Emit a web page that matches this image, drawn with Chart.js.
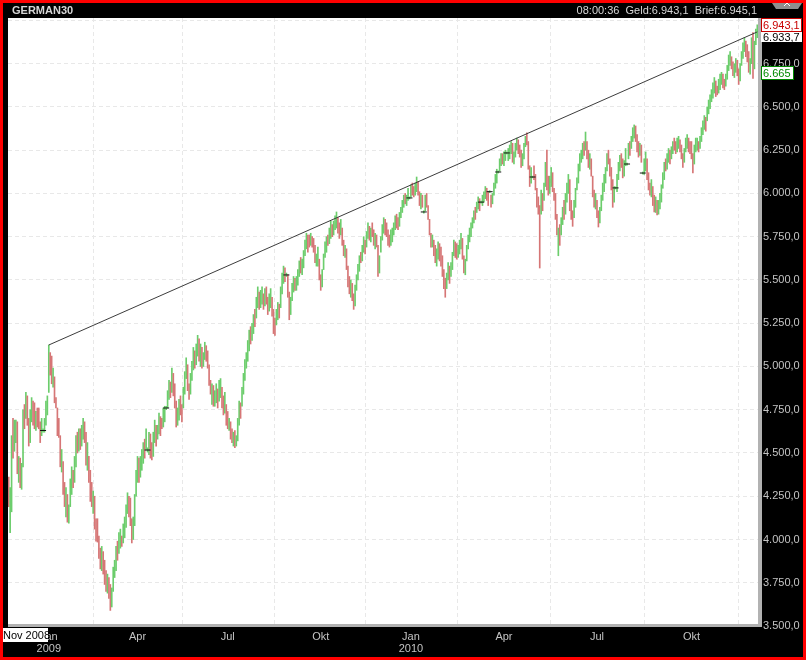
<!DOCTYPE html>
<html><head><meta charset="utf-8">
<script src="https://cdn.jsdelivr.net/npm/chart.js@4.4.0/dist/chart.umd.min.js"></script>
<style>html,body{margin:0;padding:0;background:#000;overflow:hidden}</style>
</head><body><canvas id="c" width="806" height="660"></canvas>
<script>
const symbol = 'GERMAN30';
const quoteText = '08:00:36  Geld:6.943,1  Brief:6.945,1';
const startLabel = 'Nov 2008';
const highs = [
4360,4300,4600,4700,4690,4690,4680,4480,4470,4440,
4750,4780,4850,4830,4700,4750,4820,4800,4790,4740,
4760,4760,4680,4700,4640,4700,4800,4830,5124,5080,
5060,4990,4940,4820,4760,4700,4600,4520,4450,4330,
4300,4260,4200,4350,4420,4400,4480,4600,4620,4640,
4640,4660,4700,4680,4620,4560,4480,4400,4330,4280,
4250,4120,4120,4020,3950,3960,3930,3880,3820,3800,
3780,3740,3720,3840,3880,3960,3990,4040,4060,4020,
4090,4130,4200,4270,4250,4240,4120,4130,4260,4400,
4480,4470,4480,4520,4560,4580,4640,4530,4620,4610,
4560,4620,4690,4660,4660,4730,4710,4700,4760,4770,
4770,4860,4920,4910,4990,4960,4900,4800,4760,4810,
4830,4780,4880,4970,5050,5010,4900,4960,5030,5110,
5090,5130,5180,5160,5130,5110,5080,5140,5120,5090,
5010,4920,4900,4890,4860,4900,4870,4920,4930,4880,
4830,4850,4780,4740,4700,4680,4640,4620,4630,4600,
4700,4800,4790,4880,4960,5040,5080,5150,5210,5230,
5250,5300,5330,5400,5460,5430,5440,5460,5420,5450,
5460,5400,5420,5450,5400,5330,5280,5330,5370,5360,
5460,5540,5580,5570,5540,5530,5430,5400,5480,5520,
5510,5520,5560,5610,5630,5620,5670,5730,5770,5760,
5760,5770,5750,5740,5700,5650,5690,5620,5530,5560,
5650,5720,5750,5760,5800,5840,5820,5840,5870,5893,
5860,5830,5850,5800,5730,5700,5680,5580,5520,5500,
5480,5420,5470,5530,5590,5640,5660,5700,5750,5730,
5780,5830,5810,5800,5830,5790,5770,5760,5700,5640,
5750,5820,5860,5850,5830,5790,5760,5790,5800,5830,
5870,5880,5860,5890,5920,5960,5990,6000,5990,6030,
5980,6050,6060,6040,6060,6095,6070,6010,6000,5990,
5900,5990,6000,5930,5850,5770,5760,5730,5700,5680,
5720,5710,5690,5640,5560,5510,5540,5600,5580,5600,
5660,5730,5720,5710,5700,5730,5770,5740,5640,5620,
5700,5760,5800,5830,5860,5900,5920,5950,5980,5970,
5956,5990,6010,6040,6030,6010,6016,5990,6000,6060,
6110,6140,6130,6200,6230,6230,6240,6250,6240,6260,
6280,6300,6290,6240,6290,6320,6310,6280,6250,6230,
6290,6330,6350,6300,6160,6150,6100,6160,6110,6030,
5980,5930,6020,6000,6060,6180,6250,6100,6100,6150,
6120,6030,6000,5880,5800,5820,5860,5920,5960,6000,
6060,6110,6080,5960,5900,5960,6030,6090,6170,6230,
6250,6290,6300,6355,6300,6250,6230,6200,6100,6020,
6000,5960,5900,5920,5990,6060,6110,6150,6230,6250,
6200,6150,6080,6040,6038,6110,6180,6220,6230,6200,
6190,6260,6176,6290,6300,6330,6380,6396,6390,6340,
6300,6290,6280,6124,6200,6240,6200,6120,6060,6080,
6040,5990,5980,5960,5960,6000,6050,6120,6180,6200,
6230,6260,6250,6270,6300,6320,6300,6320,6330,6310,
6280,6230,6260,6320,6340,6320,6300,6300,6230,6280,
6320,6320,6300,6330,6380,6420,6450,6440,6500,6540,
6570,6600,6640,6670,6650,6620,6660,6690,6700,6690,
6660,6690,6740,6800,6820,6790,6760,6750,6780,6770,
6720,6750,6820,6870,6900,6880,6860,6820,6780,6900,
6930,6880,6950,6975];
const lows = [
4190,4040,4160,4470,4510,4560,4380,4330,4300,4290,
4420,4640,4700,4660,4540,4560,4680,4660,4640,4630,
4650,4640,4560,4600,4620,4620,4660,4720,4850,4950,
4900,4880,4790,4760,4600,4590,4420,4390,4260,4190,
4130,4100,4095,4190,4260,4300,4330,4420,4500,4510,
4520,4540,4580,4560,4430,4400,4330,4220,4190,4150,
4060,3990,3985,3890,3830,3820,3800,3740,3700,3690,
3660,3590,3610,3700,3780,3820,3880,3920,3950,3960,
3980,4010,4070,4150,4130,4080,3980,4000,4080,4250,
4330,4330,4360,4400,4440,4470,4520,4505,4490,4470,
4460,4480,4560,4540,4580,4610,4600,4640,4650,4680,
4750,4760,4810,4820,4850,4830,4760,4650,4660,4690,
4720,4680,4760,4840,4930,4860,4810,4840,4920,4980,
4990,5010,5060,5030,5000,4990,5000,5040,5030,4990,
4890,4840,4780,4770,4770,4790,4760,4800,4820,4760,
4720,4730,4660,4640,4630,4580,4560,4540,4530,4540,
4570,4660,4700,4770,4840,4920,4990,5030,5090,5130,
5150,5190,5230,5280,5340,5330,5340,5360,5330,5350,
5360,5300,5320,5340,5290,5190,5180,5240,5270,5280,
5340,5420,5480,5490,5520,5400,5270,5300,5380,5430,
5440,5440,5470,5520,5540,5530,5570,5640,5680,5660,
5690,5700,5690,5660,5600,5580,5580,5500,5440,5460,
5560,5630,5660,5700,5710,5740,5750,5760,5790,5800,
5770,5740,5760,5700,5640,5630,5560,5460,5420,5400,
5380,5330,5350,5440,5500,5550,5600,5610,5660,5650,
5690,5740,5730,5720,5750,5700,5680,5690,5520,5540,
5660,5730,5770,5760,5750,5700,5690,5700,5720,5760,
5790,5800,5790,5810,5860,5890,5920,5940,5930,5960,
5968,5980,5990,5980,5990,6010,5990,5930,5910,5920,
5886,5900,5920,5850,5760,5690,5690,5640,5600,5580,
5620,5610,5580,5520,5450,5400,5450,5500,5480,5520,
5560,5640,5630,5620,5630,5650,5680,5620,5540,5530,
5610,5680,5720,5750,5800,5830,5850,5890,5910,5900,
5944,5930,5950,5970,5960,5930,6004,5920,5940,5990,
6030,6060,6118,6130,6160,6170,6160,6190,6228,6190,
6200,6230,6180,6170,6210,6250,6230,6210,6150,6160,
6200,6270,6280,6140,6040,6060,6090,6080,6020,5920,
5880,5569,5880,5900,5960,6040,6020,5990,6000,6040,
6010,5960,5850,5760,5640,5700,5760,5820,5850,5880,
5950,6000,5900,5850,5810,5860,5920,6020,6060,6130,
6180,6200,6220,6250,6200,6150,6140,6100,5980,5920,
5910,5860,5806,5830,5900,5960,6010,6060,6130,6170,
6100,6020,5920,5950,6026,6010,6080,6130,6150,6090,
6100,6160,6164,6200,6220,6260,6300,6320,6300,6240,
6210,6220,6180,6112,6110,6130,6080,6020,5990,5980,
5930,5893,5890,5876,5880,5910,5950,6030,6080,6130,
6140,6180,6170,6200,6230,6250,6230,6240,6260,6240,
6200,6150,6180,6240,6260,6240,6230,6200,6118,6170,
6240,6250,6240,6260,6300,6340,6370,6360,6420,6460,
6490,6530,6550,6580,6560,6570,6580,6600,6630,6610,
6600,6620,6660,6710,6740,6720,6680,6670,6700,6680,
6630,6650,6740,6780,6820,6790,6760,6700,6690,6750,
6665,6720,6860,6900];
const upDown = [
'duuduududu','ududduuddu','ddduuuuuud','dudddddudd','uduuuduudu',
'duuddudddu','dddddudddu','dduuuuduud','uuuuddduuu','uduuuduuud',
'duuduudduu','uuududdduu','dduuudduuu','duududuudd','dduduuduud',
'dudduddudu','uuduuuuuud','uuduuduudu','dduuddduud','uuududduuu',
'duuuduuuud','duddduuddu','uuuduuduuu','dduddudddu','dduuuuduud',
'uududduddu','uuudddduuu','udduuuuduu','uudduuddud','uudddduddu',
'uddddduudu','uudduuuddu','uuuuuuduud','uuuudduduu','uuuuuduuuu',
'uuduuudddu','uuddduuddd','dduduudduu','dddduduudu','uuddduuuuu',
'uududduddd','udduuuuuud','ddduuuuudd','uuuuduuudd','duduuudddu',
'dduduuuuud','uuduudduud','dduuuddddu','uuduuuuduu','uuuudduuud',
'duuuudduud','duuuuddduu','duuu'].join('');
const dojiBars = [[24,4630],[97,4517],[110,4760],[194,5529],[280,5974],[290,5893],[330,5950],[336,6010],[342,6124],[348,6234],[366,6095],[424,6032],[432,6170],[443,6118]];
const monthTickIndex = [28, 90, 153, 218, 281, 346, 411, 477];
const monthTickLabels = [['Jan','2009'],'Apr','Jul','Okt',['Jan','2010'],'Apr','Jul','Okt'];
const yTickValues = [3500,3750,4000,4250,4500,4750,5000,5250,5500,5750,6000,6250,6500,6750,7000];
const trendLine = [[28,5124],[523,6933.7]];
const lastPrice = 6943.1;
const trendValue = 6933.7;
const markedLow = 6665;

function fmt(v, dec){
  const neg = v < 0; v = Math.abs(v);
  const int = Math.floor(v + 1e-9);
  const th = Math.floor(int/1000), rest = int % 1000;
  let s = (th ? th + '.' + String(rest).padStart(3,'0') : String(rest));
  if (dec) s += ',' + (v - int).toFixed(dec).slice(2);
  return (neg?'-':'') + s;
}

const N = highs.length;
const barData = highs.map((h,i)=>({x:i, y:[lows[i], h]}));
const barColors = highs.map((h,i)=> upDown[i]==='u' ? '#6ccd6c' : '#d67676');

const FONT = '"Liberation Sans", Arial, sans-serif';

const framePlugin = {
  id:'frame',
  beforeDraw(chart){
    const ctx = chart.ctx, ca = chart.chartArea;
    ctx.save();
    ctx.fillStyle = '#000';
    ctx.fillRect(0,0,chart.width,chart.height);
    ctx.fillStyle = '#fff';
    ctx.fillRect(ca.left, ca.top, ca.right-ca.left, ca.bottom-ca.top);
    ctx.restore();
  },
  afterDraw(chart){
    const ctx = chart.ctx, ca = chart.chartArea, ys = chart.scales.y;
    ctx.save();
    ctx.fillStyle = '#b2b2b2';
    ctx.fillRect(ca.right, ca.top, 4, ca.bottom - ca.top + 1);
    ctx.fillRect(ca.left, ca.bottom-2, ca.right - ca.left + 4, 3);
    ctx.fillStyle = '#000';
    ctx.fillRect(0,0,chart.width,ca.top);
    ctx.font = 'bold 11px ' + FONT;
    ctx.fillStyle = '#d6d6d6';
    ctx.textBaseline = 'alphabetic';
    ctx.textAlign = 'left';
    ctx.fillText(symbol, 12, 14);
    ctx.font = '11px ' + FONT;
    ctx.textAlign = 'right';
    ctx.fillText(quoteText, 757, 14);
    function box(text, yTop, h, w, fg, border){
      ctx.fillStyle = '#fff';
      ctx.fillRect(761, yTop, w, h);
      if (border){ ctx.strokeStyle = border; ctx.lineWidth = 1; ctx.strokeRect(761.5, yTop+0.5, w-1, h-1); }
      ctx.fillStyle = fg;
      ctx.font = '11px ' + FONT;
      ctx.textAlign = 'left';
      ctx.textBaseline = 'middle';
      ctx.fillText(text, 763, yTop + h/2 + 0.5);
    }
    const yTrend = ys.getPixelForValue(trendValue);
    box(fmt(trendValue,1), Math.round(yTrend), 10, 41, '#000', null);
    const yLast = ys.getPixelForValue(lastPrice);
    box(fmt(lastPrice,1), Math.round(yLast) - 12, 14, 41, '#c80000', '#c80000');
    const yLow = ys.getPixelForValue(markedLow);
    box(fmt(markedLow,0), Math.round(yLow) - 12, 14, 33, '#008a00', '#008a00');
    ctx.fillStyle = '#fff';
    ctx.fillRect(2, 628, 46, 14);
    ctx.fillStyle = '#000';
    ctx.font = '11px ' + FONT;
    ctx.textAlign = 'left';
    ctx.textBaseline = 'middle';
    ctx.fillText(startLabel, 3, 635.5);
    ctx.fillStyle = '#8e8e8e';
    ctx.beginPath();
    ctx.moveTo(770,0); ctx.lineTo(804,0); ctx.lineTo(798,9); ctx.lineTo(776,9); ctx.closePath(); ctx.fill();
    ctx.strokeStyle = '#fff'; ctx.lineWidth = 1;
    ctx.beginPath(); ctx.moveTo(784,6); ctx.lineTo(787,3); ctx.lineTo(790,6); ctx.stroke();
    ctx.strokeStyle = '#ff0000';
    ctx.lineWidth = 3;
    ctx.strokeRect(1.5,1.5,chart.width-3,chart.height-3);
    ctx.restore();
  }
};

new Chart(document.getElementById('c'), {
  type:'bar',
  data:{
    datasets:[
      { type:'line', label:'trend', data: trendLine.map(p=>({x:p[0], y:p[1]})), borderColor:'#3c3c3c', borderWidth:1, pointRadius:0, fill:false, order:0 },
      { type:'line', label:'doji', data: dojiBars.map(p=>({x:p[0], y:p[1]})), showLine:false, pointStyle:'line', pointRadius:3, borderColor:'#111', borderWidth:1, order:1 },
      { type:'bar', label:symbol, data: barData, backgroundColor: barColors, barThickness:1, grouped:false, order:2 }
    ]
  },
  options:{
    responsive:false, animation:false, devicePixelRatio:1,
    layout:{ padding:{left:8, top:18, right:0, bottom:0}, autoPadding:false },
    plugins:{ legend:{display:false}, tooltip:{enabled:false} },
    scales:{
      x:{
        type:'linear', min:-0.5, max:N-0.5, offset:false,
        afterFit(s){ s.height = 34; },
        afterBuildTicks(s){ s.ticks = monthTickIndex.map(v=>({value:v})); },
        grid:{ color:'#e8e8e8', drawTicks:false },
        border:{ display:false, dash:[4,3] },
        ticks:{ autoSkip:false, maxRotation:0, padding:5, color:'#c4c4c4', font:{family:FONT, size:11, lineHeight:1.1},
          callback:(v,i)=>monthTickLabels[i] }
      },
      y:{
        type:'linear', position:'right', min:3500, max:7014,
        afterFit(s){ s.width = 48; },
        afterBuildTicks(s){ s.ticks = yTickValues.map(v=>({value:v})); },
        grid:{ color:'#e8e8e8', drawTicks:false },
        border:{ display:false, dash:[4,3] },
        ticks:{ padding:5, color:'#c4c4c4', font:{family:FONT, size:11}, callback:(v)=>fmt(v,1) }
      }
    }
  },
  plugins:[framePlugin]
});
</script></body></html>
